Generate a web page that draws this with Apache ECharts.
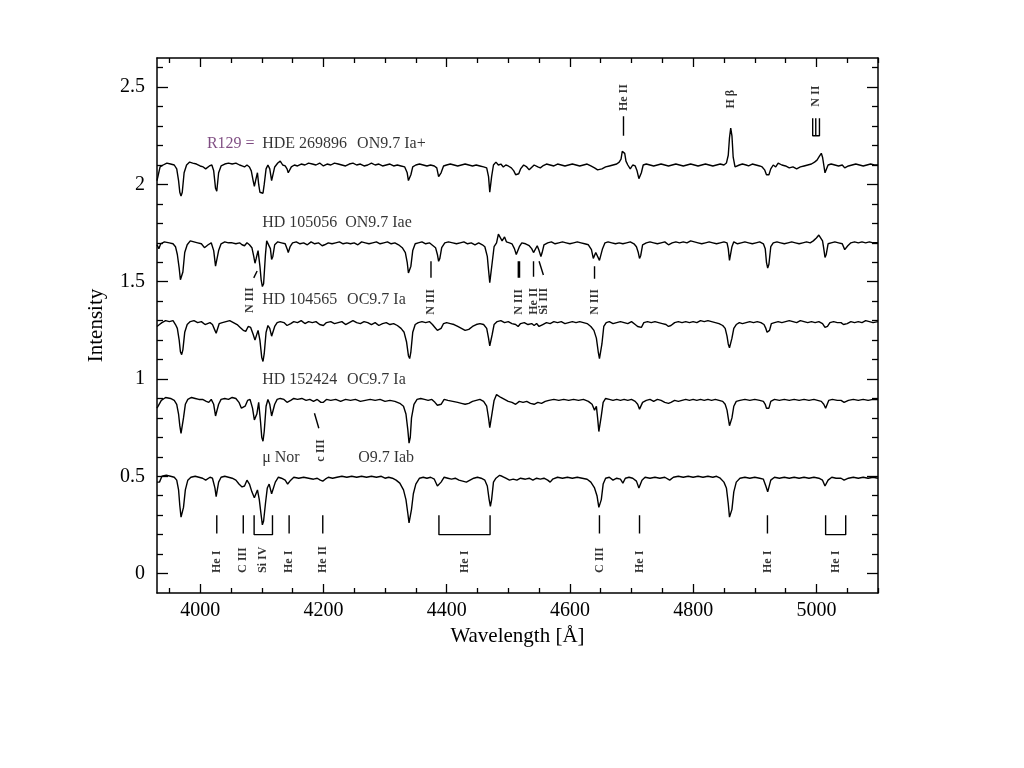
<!DOCTYPE html>
<html><head><meta charset="utf-8">
<script src="https://cdn.jsdelivr.net/npm/echarts/dist/echarts.min.js"></script>
<style>html,body{margin:0;padding:0;background:#fff}#c{width:1024px;height:768px}</style>
</head><body><div id="c"></div>
<script>
// ---- Spectra: [wavelength (Å), intensity] ----
const specR129 = [[3930,2.02],[3932,2.02],[3935,2.09],[3940,2.10],[3946,2.11],[3952,2.105],[3958,2.10],[3962,2.08],[3965,2.02],[3967,1.96],[3969,1.94],[3971,1.96],[3974,2.06],[3978,2.10],[3983,2.115],[3988,2.11],[3994,2.105],[4000,2.095],[4005,2.09],[4009,2.08],[4012,2.07],[4015,2.095],[4019,2.10],[4022,2.07],[4025,1.98],[4027,1.965],[4030,2.06],[4034,2.095],[4040,2.105],[4046,2.11],[4052,2.105],[4058,2.11],[4064,2.10],[4068,2.095],[4072,2.09],[4076,2.10],[4080,2.09],[4083,2.07],[4086,2.02],[4088,1.99],[4090,2.02],[4093,2.06],[4095,2.0],[4097,1.96],[4100,1.955],[4102,1.955],[4104,2.0],[4107,2.08],[4110,2.10],[4113,2.08],[4116,2.02],[4118,2.03],[4121,2.09],[4126,2.11],[4130,2.12],[4134,2.10],[4138,2.095],[4141,2.08],[4143,2.06],[4145,2.065],[4148,2.09],[4153,2.10],[4158,2.095],[4164,2.105],[4170,2.10],[4176,2.11],[4182,2.105],[4188,2.10],[4194,2.11],[4200,2.095],[4206,2.105],[4212,2.10],[4218,2.11],[4224,2.105],[4230,2.10],[4236,2.095],[4242,2.105],[4248,2.11],[4254,2.10],[4260,2.105],[4266,2.095],[4272,2.10],[4278,2.11],[4284,2.10],[4290,2.105],[4296,2.095],[4302,2.10],[4308,2.105],[4314,2.095],[4320,2.10],[4326,2.095],[4332,2.09],[4336,2.06],[4338,2.02],[4340,2.015],[4342,2.05],[4345,2.09],[4350,2.10],[4356,2.105],[4362,2.10],[4368,2.095],[4374,2.10],[4380,2.095],[4384,2.085],[4387,2.04],[4389,2.03],[4391,2.06],[4395,2.095],[4400,2.10],[4406,2.105],[4412,2.10],[4418,2.095],[4424,2.10],[4430,2.105],[4436,2.10],[4442,2.095],[4448,2.10],[4454,2.095],[4460,2.09],[4465,2.085],[4468,2.04],[4470,1.96],[4471,1.955],[4473,2.04],[4476,2.10],[4480,2.115],[4484,2.10],[4488,2.105],[4492,2.09],[4496,2.10],[4500,2.095],[4505,2.085],[4509,2.07],[4512,2.05],[4514,2.04],[4517,2.055],[4520,2.08],[4525,2.10],[4530,2.09],[4534,2.075],[4537,2.085],[4542,2.10],[4548,2.09],[4552,2.085],[4556,2.095],[4562,2.105],[4568,2.10],[4574,2.095],[4580,2.105],[4586,2.10],[4592,2.095],[4598,2.10],[4604,2.105],[4610,2.10],[4616,2.095],[4622,2.10],[4628,2.105],[4634,2.095],[4640,2.085],[4645,2.075],[4648,2.07],[4652,2.08],[4658,2.09],[4664,2.095],[4670,2.10],[4676,2.105],[4680,2.115],[4683,2.13],[4685,2.17],[4687,2.18],[4689,2.16],[4691,2.12],[4694,2.10],[4698,2.08],[4702,2.10],[4706,2.095],[4709,2.07],[4712,2.03],[4714,2.025],[4716,2.06],[4719,2.10],[4724,2.105],[4730,2.10],[4736,2.095],[4742,2.10],[4748,2.105],[4754,2.10],[4760,2.095],[4766,2.10],[4772,2.105],[4778,2.10],[4784,2.095],[4790,2.10],[4796,2.105],[4802,2.10],[4808,2.095],[4814,2.10],[4820,2.105],[4826,2.10],[4832,2.095],[4838,2.10],[4844,2.105],[4850,2.10],[4854,2.11],[4857,2.15],[4859,2.24],[4861,2.29],[4863,2.25],[4865,2.14],[4868,2.09],[4871,2.085],[4875,2.10],[4880,2.105],[4886,2.10],[4890,2.095],[4896,2.105],[4902,2.10],[4908,2.095],[4912,2.09],[4916,2.075],[4919,2.05],[4921,2.04],[4923,2.05],[4926,2.08],[4930,2.10],[4934,2.09],[4938,2.11],[4944,2.10],[4950,2.095],[4956,2.085],[4962,2.09],[4968,2.08],[4974,2.09],[4980,2.095],[4986,2.10],[4992,2.105],[4997,2.115],[5001,2.125],[5005,2.145],[5008,2.16],[5010,2.14],[5012,2.10],[5014,2.06],[5016,2.065],[5019,2.10],[5024,2.105],[5030,2.10],[5036,2.095],[5042,2.10],[5046,2.085],[5049,2.075],[5052,2.095],[5058,2.10],[5064,2.105],[5070,2.10],[5076,2.095],[5082,2.10],[5088,2.105],[5094,2.10],[5100,2.10]];

const specHD105056 = [[3930,1.69],[3933,1.67],[3936,1.695],[3942,1.705],[3950,1.70],[3956,1.695],[3960,1.68],[3963,1.64],[3966,1.57],[3968,1.51],[3970,1.50],[3972,1.55],[3975,1.65],[3979,1.69],[3984,1.71],[3990,1.705],[3996,1.70],[4002,1.695],[4007,1.675],[4010,1.665],[4013,1.69],[4018,1.70],[4022,1.66],[4025,1.58],[4027,1.575],[4030,1.66],[4034,1.695],[4040,1.705],[4046,1.70],[4052,1.70],[4058,1.695],[4064,1.70],[4068,1.69],[4072,1.685],[4076,1.70],[4080,1.69],[4084,1.675],[4087,1.63],[4089,1.595],[4091,1.62],[4094,1.66],[4097,1.58],[4099,1.51],[4101,1.475],[4103,1.49],[4106,1.64],[4108,1.71],[4111,1.72],[4114,1.67],[4116,1.615],[4118,1.63],[4121,1.69],[4126,1.705],[4132,1.70],[4138,1.695],[4141,1.67],[4143,1.65],[4146,1.68],[4150,1.70],[4156,1.705],[4162,1.695],[4168,1.70],[4174,1.69],[4180,1.705],[4186,1.695],[4192,1.70],[4198,1.685],[4202,1.69],[4208,1.70],[4214,1.695],[4220,1.70],[4226,1.705],[4232,1.695],[4238,1.70],[4244,1.695],[4250,1.70],[4256,1.69],[4262,1.705],[4268,1.70],[4274,1.695],[4280,1.70],[4286,1.705],[4292,1.695],[4298,1.70],[4304,1.705],[4310,1.695],[4316,1.70],[4322,1.69],[4328,1.675],[4333,1.65],[4336,1.60],[4338,1.545],[4340,1.535],[4342,1.58],[4345,1.66],[4349,1.695],[4354,1.70],[4360,1.705],[4366,1.695],[4372,1.70],[4378,1.685],[4382,1.675],[4385,1.64],[4387,1.605],[4389,1.62],[4392,1.675],[4397,1.70],[4403,1.705],[4410,1.70],[4416,1.695],[4422,1.70],[4428,1.705],[4434,1.695],[4440,1.70],[4446,1.69],[4452,1.70],[4458,1.69],[4462,1.68],[4466,1.63],[4468,1.56],[4470,1.495],[4472,1.50],[4474,1.60],[4477,1.68],[4481,1.70],[4484,1.745],[4487,1.74],[4490,1.71],[4494,1.73],[4497,1.705],[4502,1.70],[4506,1.695],[4510,1.67],[4513,1.64],[4515,1.645],[4518,1.68],[4522,1.70],[4528,1.695],[4534,1.685],[4538,1.67],[4541,1.65],[4543,1.66],[4547,1.685],[4550,1.66],[4553,1.63],[4555,1.65],[4558,1.69],[4564,1.70],[4570,1.705],[4576,1.695],[4582,1.70],[4588,1.705],[4594,1.70],[4600,1.695],[4606,1.70],[4612,1.705],[4618,1.70],[4624,1.695],[4630,1.69],[4635,1.665],[4638,1.62],[4640,1.615],[4642,1.65],[4645,1.655],[4648,1.61],[4650,1.62],[4653,1.67],[4657,1.70],[4662,1.705],[4668,1.70],[4674,1.695],[4680,1.70],[4686,1.695],[4692,1.70],[4698,1.705],[4704,1.695],[4708,1.68],[4711,1.65],[4713,1.62],[4715,1.635],[4718,1.69],[4724,1.70],[4730,1.705],[4736,1.70],[4742,1.695],[4748,1.70],[4754,1.705],[4760,1.69],[4766,1.70],[4772,1.705],[4778,1.70],[4784,1.705],[4790,1.70],[4796,1.71],[4802,1.705],[4808,1.70],[4814,1.695],[4820,1.70],[4826,1.705],[4832,1.70],[4838,1.695],[4844,1.70],[4850,1.705],[4855,1.70],[4857,1.67],[4859,1.61],[4861,1.605],[4863,1.68],[4866,1.705],[4872,1.695],[4878,1.70],[4884,1.705],[4890,1.70],[4896,1.695],[4902,1.70],[4908,1.705],[4914,1.695],[4917,1.67],[4919,1.60],[4921,1.57],[4923,1.59],[4926,1.68],[4930,1.70],[4936,1.705],[4942,1.70],[4948,1.695],[4954,1.70],[4960,1.705],[4966,1.70],[4972,1.695],[4978,1.70],[4984,1.705],[4990,1.70],[4995,1.71],[5000,1.725],[5004,1.74],[5007,1.735],[5010,1.71],[5012,1.67],[5014,1.625],[5016,1.64],[5019,1.695],[5024,1.70],[5030,1.705],[5036,1.70],[5042,1.695],[5046,1.665],[5048,1.655],[5051,1.685],[5056,1.70],[5062,1.705],[5068,1.70],[5074,1.705],[5080,1.70],[5086,1.705],[5092,1.70],[5100,1.70]];

const specHD104565 = [[3930,1.27],[3934,1.28],[3938,1.29],[3944,1.30],[3950,1.295],[3956,1.30],[3960,1.28],[3963,1.26],[3966,1.20],[3968,1.14],[3970,1.125],[3972,1.15],[3975,1.24],[3979,1.28],[3984,1.295],[3990,1.30],[3996,1.29],[4002,1.295],[4008,1.28],[4012,1.285],[4016,1.29],[4020,1.28],[4024,1.25],[4026,1.235],[4028,1.245],[4031,1.285],[4036,1.29],[4042,1.295],[4048,1.30],[4054,1.29],[4060,1.28],[4065,1.265],[4070,1.25],[4074,1.245],[4078,1.27],[4082,1.265],[4086,1.23],[4089,1.20],[4091,1.21],[4094,1.25],[4097,1.20],[4100,1.11],[4102,1.09],[4104,1.13],[4107,1.24],[4110,1.275],[4113,1.26],[4116,1.22],[4118,1.225],[4121,1.27],[4125,1.29],[4130,1.295],[4136,1.29],[4141,1.275],[4144,1.27],[4147,1.285],[4152,1.295],[4158,1.29],[4164,1.30],[4170,1.285],[4176,1.295],[4182,1.29],[4188,1.295],[4194,1.28],[4200,1.275],[4205,1.29],[4212,1.295],[4218,1.285],[4224,1.29],[4230,1.295],[4236,1.28],[4242,1.29],[4248,1.30],[4254,1.29],[4260,1.285],[4266,1.295],[4272,1.29],[4278,1.28],[4284,1.29],[4290,1.275],[4296,1.285],[4302,1.29],[4308,1.28],[4314,1.285],[4320,1.275],[4326,1.26],[4331,1.24],[4335,1.19],[4338,1.12],[4340,1.105],[4342,1.14],[4345,1.24],[4349,1.28],[4354,1.29],[4360,1.295],[4366,1.29],[4372,1.295],[4377,1.28],[4381,1.265],[4385,1.25],[4388,1.245],[4391,1.26],[4395,1.285],[4400,1.29],[4406,1.285],[4412,1.28],[4418,1.27],[4424,1.26],[4430,1.25],[4436,1.255],[4442,1.27],[4448,1.28],[4454,1.285],[4460,1.28],[4465,1.26],[4468,1.21],[4470,1.17],[4472,1.175],[4474,1.23],[4477,1.28],[4482,1.295],[4488,1.30],[4494,1.29],[4500,1.295],[4506,1.285],[4512,1.28],[4516,1.27],[4520,1.285],[4526,1.29],[4532,1.28],[4538,1.285],[4542,1.275],[4546,1.285],[4550,1.27],[4553,1.265],[4556,1.28],[4562,1.29],[4568,1.285],[4574,1.295],[4580,1.29],[4586,1.295],[4592,1.285],[4598,1.29],[4604,1.295],[4610,1.29],[4616,1.295],[4622,1.29],[4628,1.285],[4634,1.27],[4639,1.25],[4643,1.21],[4646,1.14],[4648,1.105],[4650,1.11],[4652,1.18],[4655,1.27],[4659,1.29],[4664,1.295],[4670,1.285],[4676,1.29],[4682,1.295],[4688,1.29],[4694,1.285],[4700,1.295],[4706,1.28],[4710,1.27],[4713,1.26],[4716,1.265],[4720,1.29],[4726,1.295],[4732,1.29],[4738,1.295],[4744,1.29],[4750,1.285],[4756,1.28],[4760,1.27],[4764,1.275],[4770,1.29],[4776,1.295],[4782,1.29],[4788,1.295],[4794,1.29],[4800,1.295],[4806,1.29],[4812,1.30],[4818,1.295],[4824,1.30],[4830,1.295],[4836,1.29],[4842,1.285],[4848,1.275],[4852,1.26],[4855,1.22],[4857,1.18],[4859,1.16],[4861,1.165],[4863,1.21],[4866,1.26],[4870,1.28],[4875,1.29],[4880,1.285],[4886,1.29],[4892,1.295],[4898,1.29],[4904,1.295],[4910,1.29],[4915,1.28],[4918,1.26],[4920,1.24],[4922,1.235],[4924,1.25],[4927,1.285],[4932,1.29],[4938,1.295],[4944,1.29],[4950,1.295],[4956,1.30],[4962,1.295],[4968,1.29],[4974,1.30],[4980,1.295],[4986,1.29],[4992,1.295],[4998,1.29],[5004,1.295],[5010,1.285],[5014,1.265],[5016,1.26],[5018,1.27],[5022,1.29],[5028,1.295],[5034,1.29],[5040,1.29],[5044,1.28],[5047,1.275],[5050,1.285],[5056,1.295],[5062,1.29],[5068,1.295],[5074,1.29],[5080,1.30],[5086,1.295],[5092,1.29],[5100,1.295]];

const specHD152424 = [[3930,0.85],[3933,0.855],[3937,0.89],[3944,0.905],[3952,0.90],[3958,0.89],[3962,0.87],[3965,0.82],[3967,0.76],[3969,0.72],[3971,0.73],[3973,0.80],[3976,0.87],[3980,0.895],[3986,0.905],[3992,0.90],[3998,0.895],[4004,0.895],[4010,0.885],[4014,0.88],[4018,0.895],[4022,0.87],[4025,0.81],[4027,0.805],[4030,0.87],[4034,0.895],[4040,0.90],[4046,0.895],[4052,0.905],[4058,0.90],[4063,0.88],[4067,0.85],[4070,0.84],[4073,0.86],[4077,0.89],[4081,0.895],[4085,0.85],[4088,0.79],[4090,0.78],[4092,0.82],[4095,0.88],[4098,0.78],[4100,0.70],[4102,0.68],[4104,0.73],[4107,0.86],[4110,0.895],[4113,0.87],[4116,0.81],[4118,0.815],[4121,0.87],[4125,0.895],[4130,0.90],[4136,0.895],[4141,0.88],[4144,0.875],[4147,0.89],[4152,0.90],[4158,0.895],[4165,0.90],[4172,0.89],[4178,0.895],[4184,0.885],[4190,0.895],[4196,0.88],[4200,0.88],[4205,0.895],[4212,0.89],[4220,0.895],[4228,0.885],[4236,0.895],[4244,0.89],[4252,0.895],[4260,0.885],[4268,0.89],[4276,0.895],[4284,0.89],[4292,0.895],[4300,0.885],[4308,0.89],[4316,0.885],[4324,0.875],[4330,0.86],[4334,0.82],[4337,0.74],[4339,0.67],[4341,0.70],[4343,0.80],[4347,0.87],[4352,0.895],[4358,0.90],[4364,0.895],[4370,0.89],[4376,0.895],[4381,0.88],[4385,0.865],[4388,0.855],[4391,0.87],[4396,0.895],[4402,0.89],[4410,0.885],[4418,0.88],[4424,0.875],[4430,0.87],[4436,0.875],[4442,0.885],[4448,0.89],[4454,0.895],[4460,0.885],[4465,0.86],[4468,0.80],[4470,0.75],[4472,0.76],[4474,0.83],[4477,0.89],[4481,0.92],[4484,0.925],[4488,0.905],[4494,0.895],[4500,0.885],[4506,0.88],[4512,0.87],[4518,0.885],[4524,0.88],[4530,0.885],[4536,0.875],[4542,0.87],[4548,0.88],[4554,0.875],[4560,0.885],[4566,0.89],[4574,0.895],[4582,0.89],[4590,0.895],[4598,0.89],[4606,0.895],[4614,0.89],[4622,0.895],[4630,0.885],[4636,0.87],[4640,0.84],[4643,0.86],[4645,0.80],[4647,0.73],[4649,0.735],[4651,0.81],[4654,0.88],[4658,0.90],[4664,0.895],[4670,0.89],[4676,0.895],[4682,0.89],[4688,0.895],[4694,0.89],[4700,0.895],[4706,0.885],[4710,0.87],[4713,0.845],[4715,0.85],[4718,0.88],[4724,0.89],[4730,0.895],[4736,0.885],[4742,0.895],[4748,0.89],[4754,0.88],[4760,0.875],[4764,0.88],[4770,0.89],[4776,0.885],[4782,0.89],[4788,0.895],[4794,0.89],[4800,0.895],[4806,0.89],[4812,0.895],[4818,0.89],[4824,0.895],[4830,0.89],[4836,0.895],[4842,0.89],[4848,0.885],[4852,0.87],[4855,0.84],[4857,0.80],[4859,0.76],[4861,0.755],[4863,0.80],[4866,0.86],[4870,0.885],[4876,0.89],[4884,0.895],[4892,0.89],[4900,0.895],[4908,0.89],[4914,0.885],[4917,0.87],[4919,0.85],[4921,0.84],[4923,0.85],[4926,0.885],[4932,0.895],[4940,0.89],[4948,0.895],[4956,0.89],[4964,0.895],[4972,0.89],[4980,0.895],[4988,0.89],[4996,0.895],[5002,0.89],[5008,0.885],[5012,0.87],[5015,0.85],[5017,0.86],[5020,0.89],[5026,0.895],[5034,0.89],[5040,0.89],[5045,0.88],[5048,0.875],[5052,0.89],[5060,0.895],[5068,0.89],[5076,0.895],[5084,0.89],[5092,0.895],[5100,0.895]];

const specMuNor = [[3930,0.47],[3934,0.47],[3938,0.50],[3945,0.505],[3952,0.50],[3958,0.495],[3962,0.48],[3965,0.43],[3967,0.35],[3969,0.29],[3971,0.285],[3973,0.34],[3976,0.43],[3980,0.48],[3985,0.495],[3992,0.50],[3998,0.495],[4004,0.49],[4009,0.48],[4012,0.475],[4016,0.495],[4020,0.49],[4024,0.44],[4026,0.395],[4028,0.40],[4030,0.47],[4034,0.495],[4040,0.50],[4046,0.495],[4052,0.49],[4058,0.48],[4063,0.46],[4068,0.445],[4072,0.45],[4076,0.48],[4080,0.46],[4084,0.42],[4088,0.39],[4090,0.40],[4093,0.43],[4096,0.38],[4099,0.30],[4101,0.25],[4103,0.27],[4106,0.36],[4109,0.44],[4112,0.46],[4116,0.41],[4119,0.415],[4122,0.47],[4127,0.495],[4132,0.49],[4138,0.48],[4142,0.46],[4144,0.455],[4147,0.48],[4152,0.495],[4160,0.49],[4168,0.495],[4176,0.49],[4184,0.485],[4190,0.49],[4195,0.48],[4199,0.475],[4203,0.485],[4208,0.495],[4215,0.49],[4222,0.495],[4230,0.50],[4238,0.495],[4246,0.50],[4254,0.495],[4262,0.50],[4270,0.495],[4278,0.50],[4286,0.495],[4294,0.50],[4300,0.49],[4306,0.495],[4312,0.49],[4318,0.48],[4324,0.465],[4330,0.43],[4334,0.38],[4337,0.31],[4339,0.26],[4341,0.27],[4343,0.33],[4346,0.41],[4350,0.46],[4356,0.49],[4362,0.495],[4368,0.49],[4374,0.495],[4380,0.485],[4385,0.45],[4388,0.44],[4391,0.47],[4396,0.495],[4402,0.49],[4408,0.485],[4414,0.49],[4420,0.48],[4426,0.475],[4432,0.47],[4438,0.48],[4444,0.49],[4450,0.495],[4456,0.49],[4462,0.48],[4466,0.45],[4469,0.38],[4471,0.345],[4473,0.38],[4476,0.47],[4480,0.49],[4486,0.505],[4490,0.50],[4496,0.49],[4502,0.48],[4508,0.485],[4514,0.48],[4520,0.49],[4528,0.485],[4534,0.49],[4540,0.48],[4546,0.49],[4552,0.485],[4558,0.49],[4564,0.48],[4568,0.47],[4572,0.485],[4580,0.495],[4588,0.49],[4596,0.495],[4604,0.49],[4612,0.495],[4620,0.49],[4628,0.485],[4634,0.47],[4640,0.44],[4644,0.40],[4647,0.34],[4649,0.335],[4651,0.38],[4654,0.46],[4658,0.49],[4664,0.495],[4670,0.48],[4676,0.49],[4682,0.485],[4686,0.465],[4690,0.49],[4696,0.495],[4702,0.49],[4708,0.475],[4712,0.44],[4714,0.445],[4717,0.48],[4722,0.495],[4730,0.49],[4738,0.495],[4746,0.49],[4754,0.495],[4762,0.48],[4768,0.495],[4776,0.50],[4784,0.495],[4792,0.50],[4800,0.495],[4808,0.50],[4816,0.495],[4824,0.50],[4832,0.495],[4838,0.50],[4844,0.49],[4850,0.47],[4854,0.44],[4857,0.36],[4859,0.29],[4861,0.285],[4863,0.33],[4866,0.42],[4870,0.47],[4876,0.49],[4884,0.495],[4892,0.49],[4900,0.495],[4908,0.49],[4914,0.485],[4918,0.45],[4921,0.42],[4923,0.43],[4926,0.48],[4932,0.495],[4940,0.49],[4948,0.495],[4956,0.49],[4964,0.495],[4972,0.49],[4980,0.495],[4988,0.49],[4996,0.495],[5004,0.49],[5010,0.48],[5014,0.45],[5016,0.445],[5019,0.48],[5025,0.495],[5032,0.49],[5040,0.49],[5045,0.48],[5048,0.475],[5052,0.49],[5060,0.495],[5068,0.49],[5076,0.495],[5084,0.49],[5092,0.495],[5100,0.49]];

// ---- Axis ticks ----
const xMajor = [4000, 4200, 4400, 4600, 4800, 5000];
const xMinor = [3950, 4050, 4100, 4150, 4250, 4300, 4350, 4450, 4500, 4550, 4650, 4700, 4750, 4850, 4900, 4950, 5050, 5100];
const yMajor = [0, 0.5, 1, 1.5, 2, 2.5];
const yMinor = [0.1, 0.2, 0.3, 0.4, 0.6, 0.7, 0.8, 0.9, 1.1, 1.2, 1.3, 1.4, 1.6, 1.7, 1.8, 1.9, 2.1, 2.2, 2.3, 2.4, 2.6];

// ---- Spectrum titles: [wavelength, intensity, text] ----
const starNames = [[4100.6, 1.804, 'HD 105056'], [4100.6, 1.405, 'HD 104565'], [4100.6, 0.997, 'HD 152424'], [4100.6, 0.596, 'μ Nor'], [4100.6, 2.207, 'HDE 269896']];
const starTypes = [[4235.3, 1.804, 'ON9.7 Iae'], [4238.5, 1.405, 'OC9.7 Ia'], [4238.5, 0.997, 'OC9.7 Ia'], [4256.4, 0.596, 'O9.7 Iab'], [4254.7, 2.207, 'ON9.7 Ia+']];
const purpleNames = [[4011.0, 2.207, 'R129 =']];

// ---- Line identifications ----
// vertical marks: [wavelength, from, to]
const lineMarks = [[4687, 2.25, 2.35], [4374.6, 1.52, 1.605], [4516.3, 1.52, 1.605], [4518.3, 1.52, 1.605], [4541, 1.525, 1.605], [4640, 1.515, 1.58],
  [4027, 0.206, 0.30], [4070, 0.206, 0.30], [4144.4, 0.206, 0.30], [4199, 0.206, 0.30], [4648, 0.206, 0.30], [4713, 0.206, 0.30], [4920.6, 0.206, 0.30], [4999, 2.25, 2.34]];
// brackets: [left, right, top, bottom]
const brackets = [[4087.6, 4117.4, 0.30, 0.20], [4387.5, 4470.5, 0.30, 0.20], [5015, 5047.6, 0.30, 0.20], [4994, 5005, 2.34, 2.25]];
// slanted marks: [[w1,v1],[w2,v2]]
const slants = [[[4087, 1.52], [4092.5, 1.555]], [[4550, 1.605], [4557, 1.535]], [[4185.5, 0.824], [4192.6, 0.747]]];
// rotated labels: [wavelength, intensity at text start, text]
const lineLabels = [[4687, 2.377, 'He II'], [4861, 2.39, 'H β'], [4999, 2.40, 'N II'],
  [4081, 1.339, 'N III'], [4374.6, 1.33, 'N III'], [4517.3, 1.33, 'N III'], [4541, 1.33, 'He II'], [4558, 1.33, 'Si III'], [4640, 1.33, 'N III'],
  [4195.8, 0.575, 'c III'],
  [4027, 0.003, 'He I'], [4070, 0.003, 'C III'], [4101.7, 0.003, 'Si IV'], [4144.4, 0.003, 'He I'], [4199, 0.003, 'He II'],
  [4430, 0.003, 'He I'], [4648, 0.003, 'C III'], [4713, 0.003, 'He I'], [4920.6, 0.003, 'He I'], [5031, 0.003, 'He I']];

const X_MIN = 3930, X_MAX = 5100, Y_MIN = -0.1, Y_MAX = 2.65;
const serif = '"Liberation Serif", "DejaVu Serif", serif';

const chart = echarts.init(document.getElementById('c'), null, {renderer: 'canvas'});
const black = '#000';
function xAx(pos, ticks, len, labels, line, name) {
  return {type: 'value', position: pos, min: X_MIN, max: X_MAX, gridIndex: 0,
    axisLine: {show: line, onZero: false, lineStyle: {color: black, width: 1.5}},
    axisTick: {show: true, inside: true, length: len, customValues: ticks, lineStyle: {color: black, width: 1.3}},
    axisLabel: {show: labels, customValues: ticks, color: black, fontFamily: serif, fontSize: 20, margin: 8,
      formatter: function (v) { return String(v); }},
    splitLine: {show: false},
    name: name || '', nameLocation: 'middle', nameGap: 30,
    nameTextStyle: {color: black, fontFamily: serif, fontSize: 21}};
}
function yAx(pos, ticks, len, labels, line, name) {
  return {type: 'value', position: pos, min: Y_MIN, max: Y_MAX, gridIndex: 0,
    axisLine: {show: line, onZero: false, lineStyle: {color: black, width: 1.5}},
    axisTick: {show: true, inside: true, length: len, customValues: ticks, lineStyle: {color: black, width: 1.3}},
    axisLabel: {show: labels, customValues: ticks, color: black, fontFamily: serif, fontSize: 20, margin: 12,
      formatter: function (v) { return String(v); }},
    splitLine: {show: false},
    name: name || '', nameLocation: 'middle', nameGap: 50, nameRotate: 90,
    nameTextStyle: {color: black, fontFamily: serif, fontSize: 21}};
}

const series = [];
[specR129, specHD105056, specHD104565, specHD152424, specMuNor].forEach(function (s) {
  series.push({type: 'line', data: s, showSymbol: false, symbol: 'none', silent: true,
    lineStyle: {color: black, width: 1.4}, animation: false});
});
function seg(pts) {
  series.push({type: 'line', data: pts, showSymbol: false, symbol: 'none', silent: true,
    lineStyle: {color: black, width: 1.4}, animation: false});
}
lineMarks.forEach(function (m) { seg([[m[0], m[1]], [m[0], m[2]]]); });
brackets.forEach(function (b) { seg([[b[0], b[2]], [b[0], b[3]], [b[1], b[3]], [b[1], b[2]]]); });
slants.forEach(function (s) { seg(s); });

function textSeries(items, opts) {
  series.push({type: 'scatter', symbolSize: 0, silent: true, animation: false,
    data: items.map(function (t) { return {value: [t[0], t[1]], name: t[2]}; }),
    label: Object.assign({show: true, position: 'inside', formatter: '{b}', color: black, textBorderWidth: 0}, opts)});
}
textSeries(starNames, {align: 'left', verticalAlign: 'middle', fontFamily: serif, fontSize: 16});
textSeries(starTypes, {align: 'left', verticalAlign: 'middle', fontFamily: serif, fontSize: 16});
textSeries(purpleNames, {align: 'left', verticalAlign: 'middle', fontFamily: '"Liberation Serif", serif', fontSize: 16, color: '#5e1f62'});
textSeries(lineLabels, {align: 'left', verticalAlign: 'middle', rotate: 90, fontFamily: serif, fontSize: 12, fontWeight: 'bold'});

chart.setOption({
  animation: false,
  backgroundColor: '#fff',
  grid: {left: 157, top: 58, width: 721, height: 535, containLabel: false},
  xAxis: [xAx('bottom', xMajor, 9, true, true, 'Wavelength [Å]'), xAx('bottom', xMinor, 5, false, false),
          xAx('top', xMajor, 9, false, true), xAx('top', xMinor, 5, false, false)],
  yAxis: [yAx('left', yMajor, 11, true, true, 'Intensity'), yAx('left', yMinor, 6, false, false),
          yAx('right', yMajor, 11, false, true), yAx('right', yMinor, 6, false, false)],
  series: series.map(function (s) { return Object.assign({xAxisIndex: 0, yAxisIndex: 0}, s); })
});
</script>
</body></html>
